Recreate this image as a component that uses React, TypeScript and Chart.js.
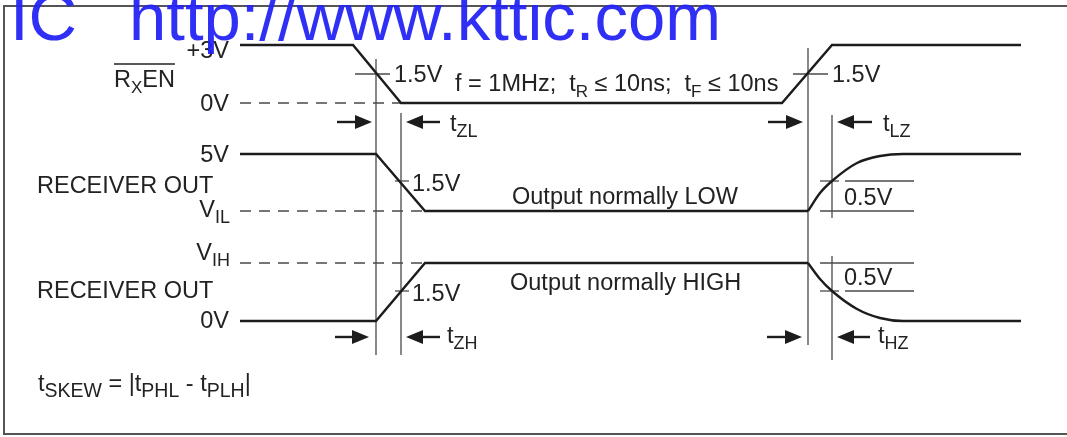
import React, { useEffect, useRef } from 'react';
import { Chart, registerables } from 'chart.js';

Chart.register(...registerables);

// ---- waveform data (x = time in diagram units, y = level in diagram units, downward) ----
const rxenTime = [240, 353, 401, 782, 832, 1021];
const rxenLevel = [45, 45, 103, 103, 45, 45];

const outLowTime = [240, 376, 425, 808];
const outLowLevel = [154, 154, 211, 211];
const outLowDecayTime = [808, 820, 832, 857, 880, 903, 1021];
const outLowDecayLevel = [211, 193, 181, 163, 156, 154, 154];

const outHighTime = [240, 376, 425, 808];
const outHighLevel = [321, 321, 263, 263];
const outHighDecayTime = [808, 820, 832, 857, 880, 903, 1021];
const outHighDecayLevel = [263, 279, 291, 309, 318, 321, 321];

// dashed reference levels (0V, VIL, VIH)
const refLevels = [103, 211, 263];
const refStart = [240, 240, 240];
const refEnd = [401, 425, 425];

// timing markers (vertical lines)
const markerTime = [376, 401, 808, 832, 832];
const markerFrom = [59, 113, 48, 115, 256];
const markerTo = [355, 355, 345, 218, 360];

// 1.5V crossing ticks
const tickLevel = [74, 74, 181, 291];
const tickFrom = [355, 793, 395, 395];
const tickTo = [390, 828, 409, 409];

// 0.5V delta lines
const deltaLevel = [181, 181, 211, 263, 291, 291];
const deltaFrom = [820, 845, 820, 820, 820, 845];
const deltaTo = [839, 914, 914, 914, 839, 914];

// arrows: tail -> tip
const arrowRow = [122, 122, 122, 122, 337, 337, 337, 337];
const arrowTail = [337, 440, 768, 872, 335, 440, 767, 870];
const arrowTip = [372, 406, 803, 837, 369, 406, 802, 837];

type Seg = { t: string; sub?: boolean };
type Label = { segs: Seg[]; x: number; y: number; align?: 'left' | 'right'; overline?: boolean; subSize?: number };

const labels: Label[] = [
  { segs: [{ t: '+3V' }], x: 229, y: 58, align: 'right' },
  { segs: [{ t: 'R' }, { t: 'X', sub: true }, { t: 'EN' }], x: 114, y: 87, overline: true },
  { segs: [{ t: '0V' }], x: 229, y: 111, align: 'right' },
  { segs: [{ t: '1.5V' }], x: 394, y: 82 },
  {
    segs: [
      { t: 'f = 1MHz;  t' }, { t: 'R', sub: true }, { t: ' \u2264 10ns;  t' }, { t: 'F', sub: true }, { t: ' \u2264 10ns' },
    ], x: 455, y: 91,
  },
  { segs: [{ t: '1.5V' }], x: 832, y: 82 },
  { segs: [{ t: 't' }, { t: 'ZL', sub: true }], x: 450, y: 131, subSize: 18 },
  { segs: [{ t: 't' }, { t: 'LZ', sub: true }], x: 883, y: 131, subSize: 18 },
  { segs: [{ t: '5V' }], x: 229, y: 162, align: 'right' },
  { segs: [{ t: 'RECEIVER OUT' }], x: 37, y: 193 },
  { segs: [{ t: '1.5V' }], x: 412, y: 191 },
  { segs: [{ t: 'Output normally LOW' }], x: 512, y: 204 },
  { segs: [{ t: 'V' }, { t: 'IL', sub: true }], x: 230, y: 217, align: 'right', subSize: 18 },
  { segs: [{ t: '0.5V' }], x: 844, y: 205 },
  { segs: [{ t: 'V' }, { t: 'IH', sub: true }], x: 230, y: 260, align: 'right', subSize: 18 },
  { segs: [{ t: 'Output normally HIGH' }], x: 510, y: 290 },
  { segs: [{ t: '0.5V' }], x: 844, y: 285 },
  { segs: [{ t: 'RECEIVER OUT' }], x: 37, y: 298 },
  { segs: [{ t: '1.5V' }], x: 412, y: 301 },
  { segs: [{ t: '0V' }], x: 229, y: 328, align: 'right' },
  { segs: [{ t: 't' }, { t: 'ZH', sub: true }], x: 447, y: 343, subSize: 18 },
  { segs: [{ t: 't' }, { t: 'HZ', sub: true }], x: 878, y: 343, subSize: 18 },
  {
    segs: [
      { t: 't' }, { t: 'SKEW', sub: true }, { t: ' = |t' }, { t: 'PHL', sub: true }, { t: ' - t' }, { t: 'PLH', sub: true }, { t: '|' },
    ], x: 38, y: 391, subSize: 19.5,
  },
];

const FONT = '"Liberation Sans", Arial, Helvetica, sans-serif';
const MAIN_SIZE = 23.5;
const SUB_SIZE = 17;
const SUB_DY = 6;
const TEXT_COLOR = '#222222';
const WAVE_COLOR = '#1c1c1c';
const THIN_COLOR = '#4a4a4a';

function pts(xs: number[], ys: number[]) {
  return xs.map((x, i) => ({ x, y: ys[i] }));
}

const annotationPlugin = {
  id: 'diagramText',
  afterDatasetsDraw(chart: any) {
    const ctx: CanvasRenderingContext2D = chart.ctx;
    const sx = chart.scales.x;
    const sy = chart.scales.y;
    const px = (v: number) => sx.getPixelForValue(v);
    const py = (v: number) => sy.getPixelForValue(v);
    ctx.save();

    // frame
    ctx.strokeStyle = '#555555';
    ctx.lineWidth = 2;
    ctx.strokeRect(px(4), py(6), px(1090) - px(4), py(434) - py(6));

    // arrowheads
    ctx.fillStyle = WAVE_COLOR;
    arrowTip.forEach((tip, i) => {
      const dir = tip > arrowTail[i] ? 1 : -1;
      const x = px(tip);
      const y = py(arrowRow[i]);
      ctx.beginPath();
      ctx.moveTo(x, y);
      ctx.lineTo(x - dir * 17, y - 7);
      ctx.lineTo(x - dir * 17, y + 7);
      ctx.closePath();
      ctx.fill();
    });

    // labels
    ctx.fillStyle = TEXT_COLOR;
    ctx.textBaseline = 'alphabetic';
    ctx.textAlign = 'left';
    const mainFont = `${MAIN_SIZE}px ${FONT}`;
    labels.forEach((lab) => {
      const subFont = `${lab.subSize ?? SUB_SIZE}px ${FONT}`;
      let total = 0;
      const widths = lab.segs.map((s) => {
        ctx.font = s.sub ? subFont : mainFont;
        const w = ctx.measureText(s.t).width;
        total += w;
        return w;
      });
      let x = px(lab.x) - (lab.align === 'right' ? total : 0);
      const x0 = x;
      const y = py(lab.y);
      lab.segs.forEach((s, i) => {
        ctx.font = s.sub ? subFont : mainFont;
        ctx.fillText(s.t, x, y + (s.sub ? SUB_DY : 0));
        x += widths[i];
      });
      if (lab.overline) {
        ctx.strokeStyle = TEXT_COLOR;
        ctx.lineWidth = 1.4;
        ctx.beginPath();
        ctx.moveTo(x0, y - 23);
        ctx.lineTo(x0 + total, y - 23);
        ctx.stroke();
      }
    });

    // watermark
    ctx.fillStyle = 'rgba(36, 36, 245, 0.95)';
    ctx.font = `67px ${FONT}`;
    ctx.fillText('IC', px(10), py(40));
    ctx.fillText('http://www.kttic.com', px(129), py(40));
    ctx.restore();
  },
};

export default function App() {
  const ref = useRef<HTMLCanvasElement | null>(null);

  useEffect(() => {
    document.body.style.margin = '0';
    document.body.style.background = '#ffffff';
    const canvas = ref.current;
    if (!canvas) return;

    const wave = (xs: number[], ys: number[], curved = false) => ({
      data: pts(xs, ys),
      showLine: true,
      borderColor: WAVE_COLOR,
      borderWidth: 2.4,
      pointRadius: 0,
      cubicInterpolationMode: curved ? 'monotone' : 'default',
      tension: 0,
    });
    const thin = (x1: number, y1: number, x2: number, y2: number, dash: number[] = [], color = THIN_COLOR, width = 1.3) => ({
      data: [{ x: x1, y: y1 }, { x: x2, y: y2 }],
      showLine: true,
      borderColor: color,
      borderWidth: width,
      borderDash: dash,
      pointRadius: 0,
    });

    const datasets: any[] = [
      wave(rxenTime, rxenLevel),
      wave(outLowTime, outLowLevel),
      wave(outLowDecayTime, outLowDecayLevel, true),
      wave(outHighTime, outHighLevel),
      wave(outHighDecayTime, outHighDecayLevel, true),
    ];
    refLevels.forEach((lv, i) => datasets.push(thin(refStart[i], lv, refEnd[i], lv, [11, 8])));
    markerTime.forEach((t, i) => datasets.push(thin(t, markerFrom[i], t, markerTo[i])));
    tickLevel.forEach((lv, i) => datasets.push(thin(tickFrom[i], lv, tickTo[i], lv)));
    deltaLevel.forEach((lv, i) => datasets.push(thin(deltaFrom[i], lv, deltaTo[i], lv)));
    arrowRow.forEach((row, i) => {
      const dir = arrowTip[i] > arrowTail[i] ? 1 : -1;
      datasets.push(thin(arrowTail[i], row, arrowTip[i] - dir * 10, row, [], WAVE_COLOR, 2.4));
    });

    const chart = new Chart(canvas, {
      type: 'scatter',
      data: { datasets },
      plugins: [annotationPlugin],
      options: {
        animation: false,
        responsive: false,
        maintainAspectRatio: false,
        devicePixelRatio: 1,
        layout: { padding: 0 },
        events: [],
        plugins: { legend: { display: false }, tooltip: { enabled: false }, title: { display: false } },
        scales: {
          x: { type: 'linear', min: 0, max: 1067, display: false },
          y: { type: 'linear', min: 0, max: 437, reverse: true, display: false },
        },
        elements: { line: { borderCapStyle: 'butt', borderJoinStyle: 'miter' } },
      } as any,
    });
    return () => chart.destroy();
  }, []);

  return (
    <div style={{ position: 'absolute', left: 0, top: 0, width: 1067, height: 437, background: '#fff' }}>
      <canvas ref={ref} width={1067} height={437} style={{ width: 1067, height: 437, display: 'block' }} />
    </div>
  );
}
